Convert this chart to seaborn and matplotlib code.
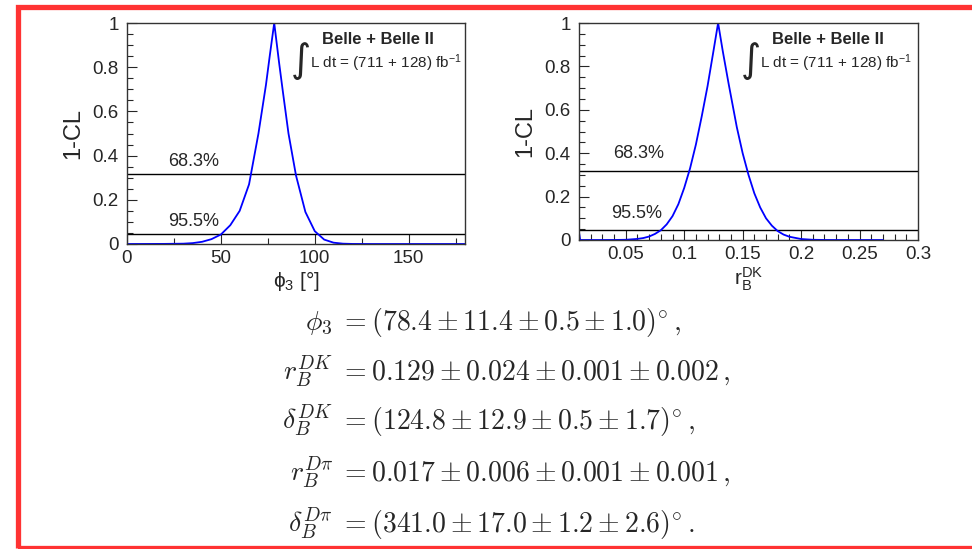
import matplotlib
matplotlib.use("Agg")
import matplotlib.pyplot as plt
import matplotlib.patches as mpatches
import seaborn as sns
import pandas as pd

# 1-CL scan for phi3 (degrees)
phi3_x = [0, 20, 30, 35, 40, 45, 50, 55, 60, 65, 70, 74, 76, 78.4,
          81, 83, 86, 90, 95, 100, 105, 110, 115, 120, 130, 180]
phi3_cl = [0.0, 0.0005, 0.0015, 0.004, 0.01, 0.022, 0.043, 0.085, 0.15, 0.27, 0.50, 0.72, 0.85, 1.0,
           0.82, 0.69, 0.50, 0.31, 0.145, 0.058, 0.02, 0.006, 0.0015, 0.0003, 0.0, 0.0]

# 1-CL scan for r_B^DK
rb_x = [0.010, 0.011, 0.03, 0.04, 0.05, 0.06, 0.065, 0.07, 0.075, 0.08, 0.085, 0.09, 0.095,
        0.1, 0.105, 0.11, 0.115, 0.12, 0.125, 0.129, 0.133, 0.138, 0.145, 0.15, 0.155, 0.16,
        0.165, 0.17, 0.175, 0.18, 0.185, 0.19, 0.2, 0.21, 0.22, 0.23, 0.27]
rb_cl = [0.035, 0.0, 0.0, 0.0002, 0.001, 0.005, 0.009, 0.016, 0.028, 0.045, 0.072, 0.11, 0.165,
         0.24, 0.33, 0.44, 0.57, 0.71, 0.87, 1.0, 0.87, 0.72, 0.52, 0.40, 0.30, 0.215,
         0.15, 0.10, 0.066, 0.041, 0.025, 0.015, 0.0045, 0.001, 0.0002, 0.0, 0.0]

cl_levels = [0.317, 0.045]
cl_labels = ["68.3%", "95.5%"]

y_ticks = [0, 0.2, 0.4, 0.6, 0.8, 1.0]
y_ticklabels = ["0", "0.2", "0.4", "0.6", "0.8", "1"]
phi3_ticks = [0, 50, 100, 150]
phi3_ticklabels = ["0", "50", "100", "150"]
rb_ticks = [0.05, 0.1, 0.15, 0.2, 0.25, 0.3]
rb_ticklabels = ["0.05", "0.1", "0.15", "0.2", "0.25", "0.3"]

# results: symbol, central value, stat, syst, model uncertainty
eq_symbols = [r"\phi_3", r"r_B^{DK}", r"\delta_B^{DK}", r"r_B^{D\pi}", r"\delta_B^{D\pi}"]
eq_central = ["78.4", "0.129", "124.8", "0.017", "341.0"]
eq_stat = ["11.4", "0.024", "12.9", "0.006", "17.0"]
eq_syst = ["0.5", "0.001", "0.5", "0.001", "1.2"]
eq_model = ["1.0", "0.002", "1.7", "0.001", "2.6"]
eq_angle = [True, False, True, False, True]

sns.set_style("ticks")
plt.rcParams["font.family"] = ["Liberation Sans", "DejaVu Sans"]
plt.rcParams["mathtext.fontset"] = "custom"
plt.rcParams["mathtext.rm"] = "Liberation Sans"
plt.rcParams["mathtext.it"] = "Liberation Sans:italic"
plt.rcParams["mathtext.bf"] = "Liberation Sans:bold"

fig = plt.figure(figsize=(9.72, 5.49), dpi=100)
W, H = 972.0, 549.0


def px_axes(x0, y0, x1, y1):
    return fig.add_axes([x0 / W, 1 - y1 / H, (x1 - x0) / W, (y1 - y0) / H])


ax1 = px_axes(127, 23, 465, 244)
ax2 = px_axes(579, 23, 918, 240)

df1 = pd.DataFrame({"x": phi3_x, "cl": phi3_cl})
df2 = pd.DataFrame({"x": rb_x, "cl": rb_cl})
sns.lineplot(data=df1, x="x", y="cl", ax=ax1, color="#0000ff", lw=1.3, sort=False, estimator=None)
sns.lineplot(data=df2, x="x", y="cl", ax=ax2, color="#0000ff", lw=1.3, sort=False, estimator=None)

ax1.set_xlim(0, 180)
ax2.set_xlim(0.01, 0.3)
for ax in (ax1, ax2):
    ax.set_ylim(0, 1.0)
    for lev in cl_levels:
        ax.axhline(lev, color="black", lw=1.0, zorder=1)
    for s in ax.spines.values():
        s.set_visible(True)
        s.set_color("#333333")
        s.set_linewidth(1.0)
    ax.set_yticks(y_ticks)
    ax.set_yticklabels(y_ticklabels)
    ax.set_yticks([v / 20 for v in range(21)], minor=True)
    ax.tick_params(which="both", direction="in", top=False, right=False, labelsize=13.5, width=0.8)
    ax.tick_params(which="major", length=7)
    ax.tick_params(which="minor", length=4)
    ax.tick_params(axis="y", pad=6)
    ax.tick_params(axis="x", pad=4)
    ax.set_ylabel("1-CL", fontsize=17, labelpad=6)

ax1.set_xticks(phi3_ticks)
ax1.set_xticklabels(phi3_ticklabels)
ax1.set_xticks([v * 25 for v in range(8)], minor=True)
ax1.set_xlabel(r"$\mathregular{\phi_{3}}$ [°]", fontsize=15, labelpad=2)

ax2.set_xticks(rb_ticks)
ax2.set_xticklabels(rb_ticklabels)
ax2.set_xticks([v / 100 for v in range(1, 31)], minor=True)
ax2.set_xlabel(r"$\mathregular{r_{B}^{DK}}$", fontsize=15, labelpad=2)

# CL level labels and experiment labels
panel_txt = [
    (ax1, (168, 161), (168, 221), 378, 301, 310),
    (ax2, (613, 154), (611, 213), 828, 751, 760),
]
for ax, p68, p95, xb, xint, xl in panel_txt:
    for (px, py), lab in zip((p68, p95), cl_labels):
        fig.text(px / W, 1 - py / H, lab, fontsize=13, ha="left", va="center")
    fig.text(xb / W, 1 - 39 / H, "Belle + Belle II", fontsize=12, fontweight="bold",
             ha="center", va="center")
    fig.text(xint / W, 1 - 61 / H, "\u222b", fontsize=28, ha="center", va="center",
             family="DejaVu Sans")
    fig.text(xl / W, 1 - 63 / H, r"L dt = (711 + 128) fb$^{-1}$", fontsize=11,
             ha="left", va="center")

# result equations, aligned on the '=' sign
baselines = [330, 380, 429, 481, 532]
for sym, c, st, sy, mo, ang, yb, end in zip(eq_symbols, eq_central, eq_stat, eq_syst,
                                             eq_model, eq_angle, baselines,
                                             [",", ",", ",", ",", "."]):
    body = c + r" \pm " + st + r" \pm " + sy + r" \pm " + mo
    if ang:
        body = "(" + body + r")^{\circ}"
    fig.text(333 / W, 1 - yb / H, "$" + sym + "$", fontsize=20, ha="right", va="baseline",
             math_fontfamily="cm")
    fig.text(340 / W, 1 - yb / H, "$= " + body + r"\," + end + "$", fontsize=20, ha="left",
             va="baseline", math_fontfamily="cm")

# red frame around the slide region (right edge runs off the image)
frame = mpatches.Rectangle((18 / W, 1.5 / H), 1.1, 1 - 8.5 / H, transform=fig.transFigure,
                           fill=False, edgecolor="#ff3333", lw=3.8, clip_on=False)
fig.add_artist(frame)

fig.savefig("out.png", dpi=100)
